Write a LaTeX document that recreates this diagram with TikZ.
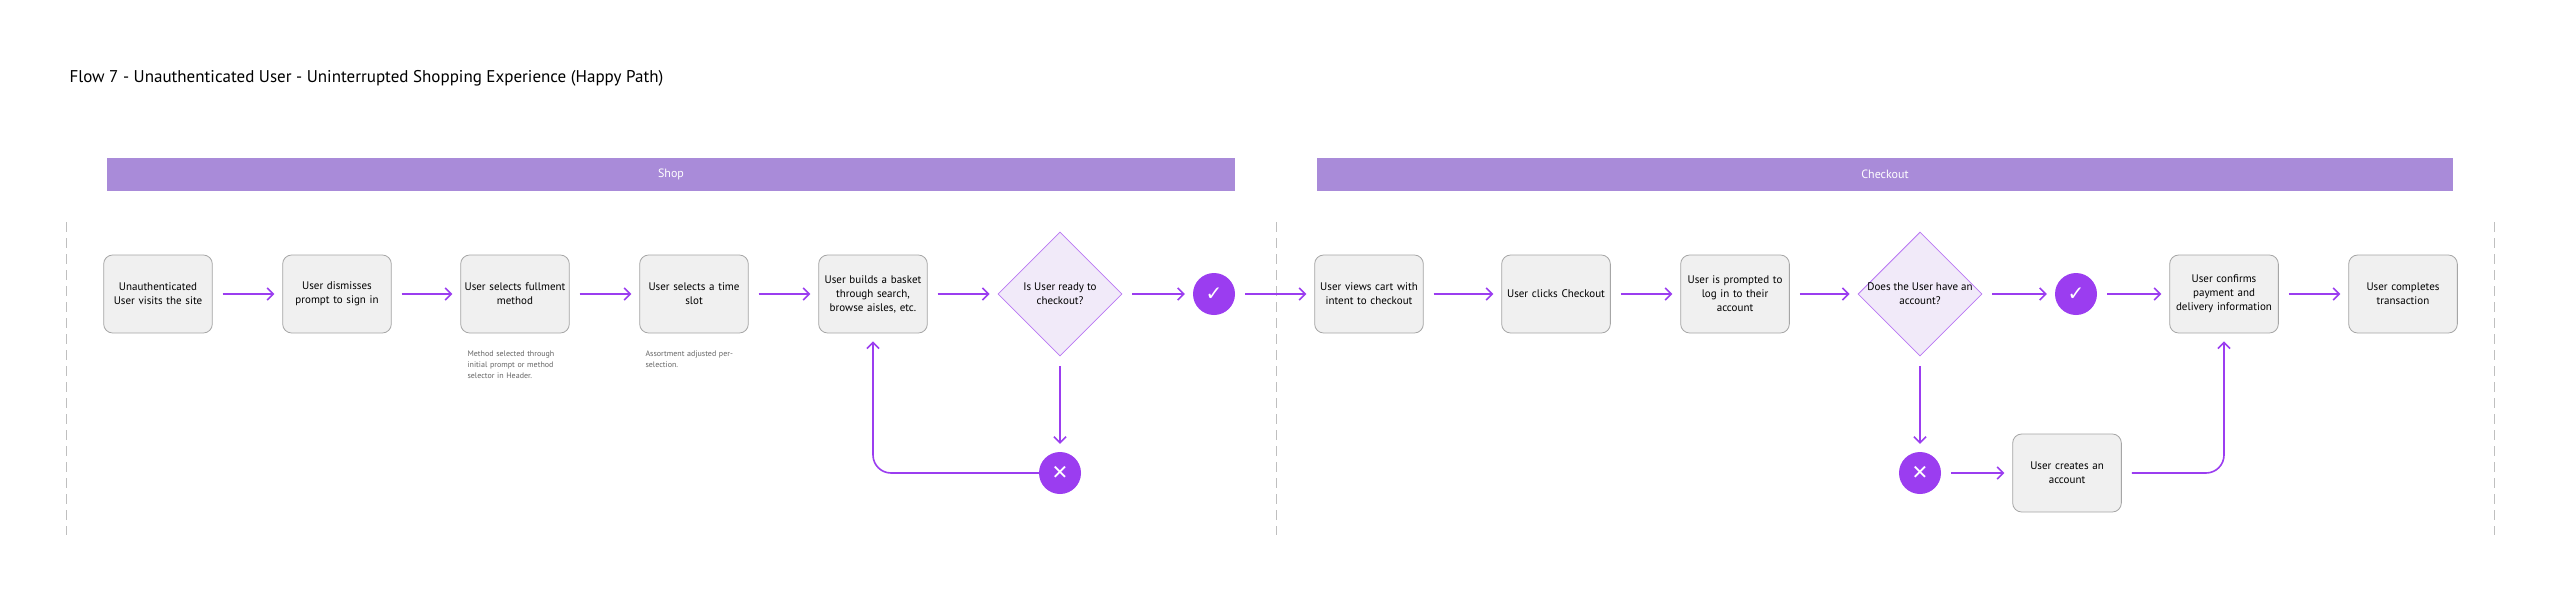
\documentclass[tikz,border=0pt]{standalone}
\usepackage{fontspec}
\setmainfont{PT Sans}
\newfontfamily\symf{DejaVu Sans}
\usetikzlibrary{shapes.geometric,arrows.meta}
\definecolor{pur}{HTML}{9B3DF0}
\definecolor{bar}{HTML}{A98BD9}
\definecolor{boxf}{HTML}{F0F0F0}
\definecolor{dia}{HTML}{F1EAF9}
\tikzset{
 stepbox/.style={draw=black!35,fill=boxf,rounded corners=9pt,minimum width=104pt,minimum height=78pt,text width=102pt,align=center,font=\fontsize{11}{14}\selectfont,line width=0.8pt},
 decis/.style={diamond,draw=pur!70,fill=dia,minimum width=124pt,minimum height=124pt,inner sep=0pt,line width=0.8pt,aspect=1},
 dtext/.style={label={[align=center,font=\fontsize{11}{14}\selectfont]center:#1}},
 dot/.style={circle,fill=pur,minimum size=42pt,inner sep=0pt,text=white,font=\symf\fontsize{20}{20}\selectfont},
 arr/.style={draw=pur,line width=1.6pt,-{Straight Barb[length=6pt,width=12pt]}},
 lane/.style={fill=bar,text=white,minimum height=33pt,font=\fontsize{12}{14}\selectfont},
 note/.style={text=black!60,font=\fontsize{8}{11}\selectfont,text width=105pt,align=left,anchor=north west},
 vdash/.style={draw=black!25,line width=1pt,dash pattern=on 10pt off 6pt}
}
\begin{document}
\begin{tikzpicture}[x=1pt,y=-1pt]
\useasboundingbox[fill=white] (0,0) rectangle (2560,608);
\node[anchor=west,font=\fontsize{17}{20}\selectfont] (title) at (66,78) {Flow 7 - Unauthenticated User - Uninterrupted Shopping Experience (Happy Path)};
\node[lane,minimum width=1128pt] (shop) at (671,174.5) {Shop};
\node[lane,minimum width=1136pt] (chk) at (1885,174.5) {Checkout};
\draw[vdash] (66,222) -- (66,535);
\draw[vdash] (1276,222) -- (1276,535);
\draw[vdash] (2494,222) -- (2494,535);
\node[stepbox] (b1) at (158,294) {Unauthenticated\\User visits the site};
\node[stepbox] (b2) at (337,294) {User dismisses\\prompt to sign in};
\node[stepbox] (b3) at (515,294) {User selects fullment\\method};
\node[stepbox] (b4) at (694,294) {User selects a time\\slot};
\node[stepbox] (b5) at (873,294) {User builds a basket\\through search,\\browse aisles, etc.};
\node[decis,dtext={Is User ready to\\checkout?}] (d1) at (1060,294) {};
\node[dot] (c1) at (1214,294) {✓};
\node[dot] (x1) at (1060,473) {✕};
\node[stepbox] (b6) at (1369,294) {User views cart with\\intent to checkout};
\node[stepbox] (b7) at (1556,294) {User clicks Checkout};
\node[stepbox] (b8) at (1735,294) {User is prompted to\\log in to their\\account};
\node[decis,dtext={Does the User have an\\account?}] (d2) at (1920,294) {};
\node[dot] (c2) at (2076,294) {✓};
\node[dot] (x2) at (1920,473) {✕};
\node[stepbox] (b9) at (2224,294) {User confirms\\payment and\\delivery information};
\node[stepbox] (b10) at (2403,294) {User completes\\transaction};
\node[stepbox] (b11) at (2067,473) {User creates an\\account};
\node[note] (n1) at (464,347) {Method selected through\\initial prompt or method\\selector in Header.};
\node[note] (n2) at (642,347) {Assortment adjusted per-\\selection.};
\foreach \a/\b in {b1/b2,b2/b3,b3/b4,b4/b5,b5/d1,d1/c1,c1/b6,b6/b7,b7/b8,b8/d2,d2/c2,c2/b9,b9/b10,x2/b11}
  \draw[arr,shorten <=10pt,shorten >=8pt] (\a) -- (\b);
\draw[arr,shorten <=10pt,shorten >=8pt] (d1) -- (x1);
\draw[arr,shorten <=10pt,shorten >=8pt] (d2) -- (x2);
\draw[arr,rounded corners=18pt,shorten >=8pt] (x1.west) -| (b5.south);
\draw[arr,rounded corners=18pt,shorten <=10pt,shorten >=8pt] (b11.east) -| (b9.south);
\end{tikzpicture}
\end{document}
